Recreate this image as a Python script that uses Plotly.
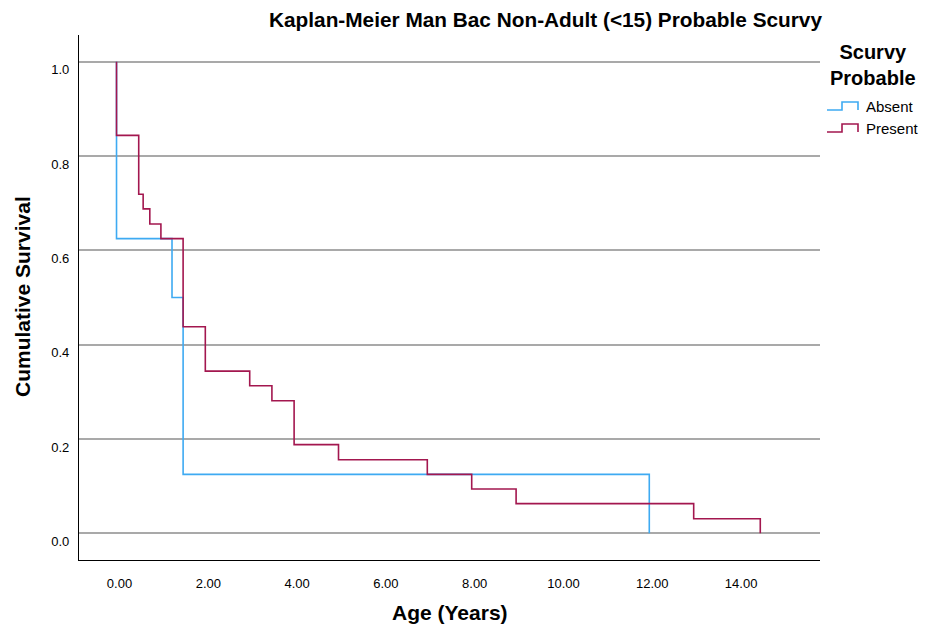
import plotly.graph_objects as go

# ---- data ----
absent_time = [0, 0, 1.25, 1.5, 12.0]
absent_surv = [1.0, 0.625, 0.5, 0.125, 0.0]

present_time = [0, 0, 0.5, 0.6, 0.75, 1.0, 1.5, 2.0, 3.0, 3.5, 4.0, 5.0, 7.0, 8.0, 9.0, 13.0, 14.5]
present_surv = [1.0, 0.844, 0.719, 0.688, 0.656, 0.625, 0.438, 0.344, 0.313, 0.281,
                0.188, 0.156, 0.125, 0.094, 0.063, 0.031, 0.0]

x_ticks = [0, 2, 4, 6, 8, 10, 12, 14]
x_tick_labels = ["0.00", "2.00", "4.00", "6.00", "8.00", "10.00", "12.00", "14.00"]
y_ticks = [0.0, 0.2, 0.4, 0.6, 0.8, 1.0]
y_tick_labels = ["0.0", "0.2", "0.4", "0.6", "0.8", "1.0"]

series_names = ["Absent", "Present"]
legend_title_lines = ["Scurvy", "Probable"]
colors = ["#3eaaf2", "#a3174f"]

W, H = 933, 627
L, R, T, B = 79, 113, 35, 67
FONT = "Arial, Liberation Sans, sans-serif"

fig = go.Figure()
fig.add_trace(go.Scatter(x=absent_time, y=absent_surv, mode="lines", line_shape="hv",
                         line=dict(color=colors[0], width=1.6), name=series_names[0],
                         showlegend=False))
fig.add_trace(go.Scatter(x=present_time, y=present_surv, mode="lines", line_shape="hv",
                         line=dict(color=colors[1], width=1.6), name=series_names[1],
                         showlegend=False))

# paper coordinate helpers for pixel-placed decorations
pw, ph = W - L - R, H - T - B
def px(xp):
    return (xp - L) / pw
def py(yp):
    return (H - B - yp) / ph

# axis titles
fig.add_annotation(xref="paper", yref="paper", x=px(22), y=py(297), text="<b>Cumulative Survival</b>",
                   textangle=-90, showarrow=False, xanchor="center", yanchor="middle",
                   font=dict(family=FONT, size=21, color="black"))
fig.add_annotation(xref="paper", yref="paper", x=px(450), y=py(612), text="<b>Age (Years)</b>",
                   showarrow=False, xanchor="center", yanchor="middle",
                   font=dict(family=FONT, size=21, color="black"))

# custom legend: title + step-shaped icons
fig.add_annotation(xref="paper", yref="paper", x=px(873), y=py(65),
                   text="<br>".join(f"<b>{t}</b>" for t in legend_title_lines),
                   showarrow=False, font=dict(family=FONT, size=20, color="black"),
                   xanchor="center", yanchor="middle", align="center", borderpad=0)
legend_y = [106, 128]
for i, name in enumerate(series_names):
    yc = legend_y[i]
    xs = [827, 842, 842, 858, 858]
    ys = [yc + 4, yc + 4, yc - 4, yc - 4, yc + 4]
    path = "M " + " L ".join(f"{px(a)},{py(b)}" for a, b in zip(xs, ys))
    fig.add_shape(type="path", path=path, xref="paper", yref="paper",
                  line=dict(color=colors[i], width=1.6))
    fig.add_annotation(xref="paper", yref="paper", x=px(864), y=py(yc), text=name,
                       showarrow=False, font=dict(family=FONT, size=15, color="black"),
                       xanchor="left", yanchor="middle")

fig.update_layout(
    width=W, height=H,
    margin=dict(l=L, r=R, t=T, b=B, autoexpand=False),
    paper_bgcolor="white", plot_bgcolor="white",
    showlegend=False,
    title=dict(text="<b>Kaplan-Meier Man Bac Non-Adult (&lt;15) Probable Scurvy</b>",
               xref="container", x=822 / W, xanchor="right",
               yref="container", y=(H - 20) / H, yanchor="middle",
               font=dict(family=FONT, size=20.8, color="black")),
    font=dict(family=FONT, color="black"),
)
fig.update_xaxes(
    range=[-0.845, 15.845], tickvals=x_ticks, ticktext=x_tick_labels,
    showgrid=False, zeroline=False, showline=True, linecolor="black", linewidth=1.2,
    ticks="", ticklabelstandoff=11, ticklabelshift=3, automargin=False,
    tickfont=dict(family=FONT, size=13, color="black"),
)
fig.update_yaxes(
    range=[-0.0566, 1.0568], tickvals=y_ticks, ticktext=y_tick_labels,
    showgrid=True, gridcolor="#a9a9a9", gridwidth=1.6, zeroline=False,
    showline=True, linecolor="black", linewidth=1.2,
    ticks="", ticklabelstandoff=6, ticklabelshift=8, automargin=False,
    tickfont=dict(family=FONT, size=13, color="black"),
)

fig.write_html("out.html", config={"displayModeBar": False},
               post_script="document.body.style.margin='0px';document.body.style.padding='0px';")
